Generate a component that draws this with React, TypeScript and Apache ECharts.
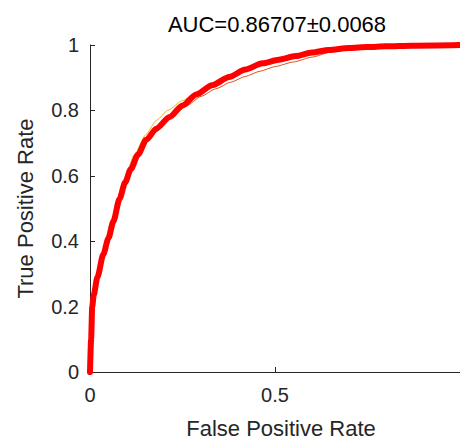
import React, { useEffect, useRef } from "react";
import * as echarts from "echarts";

const titleText = "AUC=0.86707±0.0068";
const xName = "False Positive Rate";
const yName = "True Positive Rate";

const meanFpr = [0, 0.003, 0.006, 0.01, 0.02, 0.036, 0.05, 0.063, 0.08, 0.095, 0.11, 0.13, 0.152, 0.18, 0.215, 0.25, 0.287, 0.33, 0.376, 0.42, 0.466, 0.51, 0.556, 0.6, 0.645, 0.7, 0.75, 0.8, 0.87, 1];
const meanTpr = [0, 0.1, 0.2, 0.235, 0.29, 0.36, 0.41, 0.46, 0.53, 0.58, 0.62, 0.665, 0.71, 0.745, 0.78, 0.815, 0.849, 0.877, 0.902, 0.925, 0.944, 0.955, 0.966, 0.977, 0.985, 0.991, 0.994, 0.996, 0.998, 1];

const blueFpr = [0, 0.004, 0.01, 0.03, 0.06, 0.09, 0.12, 0.15, 0.18, 0.21, 0.25, 0.29, 0.33, 0.38, 0.43, 0.48, 0.53, 0.58, 0.64, 0.7, 0.77, 0.85, 0.93, 1];
const blueTpr = [0, 0.19, 0.24, 0.34, 0.45, 0.565, 0.645, 0.7, 0.735, 0.77, 0.812, 0.848, 0.878, 0.908, 0.93, 0.95, 0.962, 0.972, 0.984, 0.99, 0.994, 0.997, 0.999, 1];

const orangeFpr = [0, 0.005, 0.012, 0.03, 0.06, 0.09, 0.12, 0.15, 0.18, 0.22, 0.26, 0.3, 0.34, 0.38, 0.42, 0.46, 0.5, 0.55, 0.6, 0.65, 0.7, 0.77, 0.85, 0.93, 1];
const orangeTpr = [0, 0.2, 0.245, 0.345, 0.455, 0.57, 0.645, 0.705, 0.74, 0.778, 0.813, 0.843, 0.866, 0.886, 0.904, 0.92, 0.934, 0.948, 0.963, 0.978, 0.987, 0.993, 0.997, 0.999, 1];

const yellowFpr = [0, 0.004, 0.01, 0.03, 0.06, 0.09, 0.12, 0.15, 0.18, 0.21, 0.25, 0.29, 0.33, 0.38, 0.43, 0.48, 0.53, 0.58, 0.64, 0.7, 0.77, 0.85, 0.93, 1];
const yellowTpr = [0, 0.21, 0.245, 0.35, 0.47, 0.58, 0.665, 0.725, 0.77, 0.8, 0.83, 0.857, 0.882, 0.91, 0.933, 0.952, 0.965, 0.976, 0.987, 0.992, 0.995, 0.997, 0.999, 1];

const zip = (xs: number[], ys: number[]) => xs.map((x, i) => [x, ys[i]]);

const FONT = "'Liberation Sans', Arial, sans-serif";
const AXIS_COLOR = "#262626";

export default function App() {
  const ref = useRef<HTMLDivElement>(null);
  useEffect(() => {
    if (!ref.current) return;
    const chart = echarts.init(ref.current, undefined, { renderer: "svg" });
    const thin = (name: string, color: string, data: number[][]) => ({
      name,
      type: "line",
      data,
      showSymbol: false,
      symbol: "none",
      smooth: 0.2,
      smoothMonotone: "x",
      lineStyle: { color, width: 1 },
      z: 2,
    });
    chart.setOption({
      animation: false,
      backgroundColor: "#ffffff",
      grid: { left: 90, top: 45, width: 372, height: 332, containLabel: false },
      graphic: [
        {
          type: "text",
          x: 277,
          y: 24,
          style: {
            text: titleText,
            fontSize: 22,
            fontFamily: FONT,
            fill: "#000000",
            textAlign: "center",
            textVerticalAlign: "middle",
          },
        },
      ],
      xAxis: {
        type: "value",
        min: 0,
        max: 1,
        interval: 0.5,
        name: xName,
        nameLocation: "middle",
        nameGap: 45,
        nameTextStyle: { fontSize: 22, fontFamily: FONT, color: "#262626", padding: [0, 0, 0, 12] },
        axisLine: { show: true, onZero: false, lineStyle: { color: AXIS_COLOR, width: 1 } },
        axisTick: { show: true, inside: true, length: 5, lineStyle: { color: AXIS_COLOR } },
        axisLabel: { fontSize: 20, fontFamily: FONT, color: "#262626", margin: 13, showMaxLabel: false },
        splitLine: { show: false },
      },
      yAxis: {
        type: "value",
        min: 0,
        max: 1,
        interval: 0.2,
        name: yName,
        nameLocation: "middle",
        nameGap: 54,
        nameTextStyle: { fontSize: 22, fontFamily: FONT, color: "#262626" },
        axisLine: { show: true, onZero: false, lineStyle: { color: AXIS_COLOR, width: 1 } },
        axisTick: { show: true, inside: true, length: 5, lineStyle: { color: AXIS_COLOR } },
        axisLabel: { fontSize: 20, fontFamily: FONT, color: "#262626", margin: 11 },
        splitLine: { show: false },
      },
      series: [
        thin("fold1", "#0072BD", zip(blueFpr, blueTpr)),
        thin("fold2", "#D95319", zip(orangeFpr, orangeTpr)),
        thin("fold3", "#EDB120", zip(yellowFpr, yellowTpr)),
        {
          name: "mean",
          type: "line",
          data: zip(meanFpr, meanTpr),
          showSymbol: false,
          symbol: "none",
          smooth: 0.25,
          smoothMonotone: "x",
          lineStyle: { color: "#FF0000", width: 6, join: "round", cap: "round" },
          z: 3,
        },
      ],
    });
    return () => chart.dispose();
  }, []);
  return (
    <div
      ref={ref}
      style={{ position: "fixed", left: 0, top: 0, width: 460, height: 444, background: "#fff" }}
    />
  );
}
